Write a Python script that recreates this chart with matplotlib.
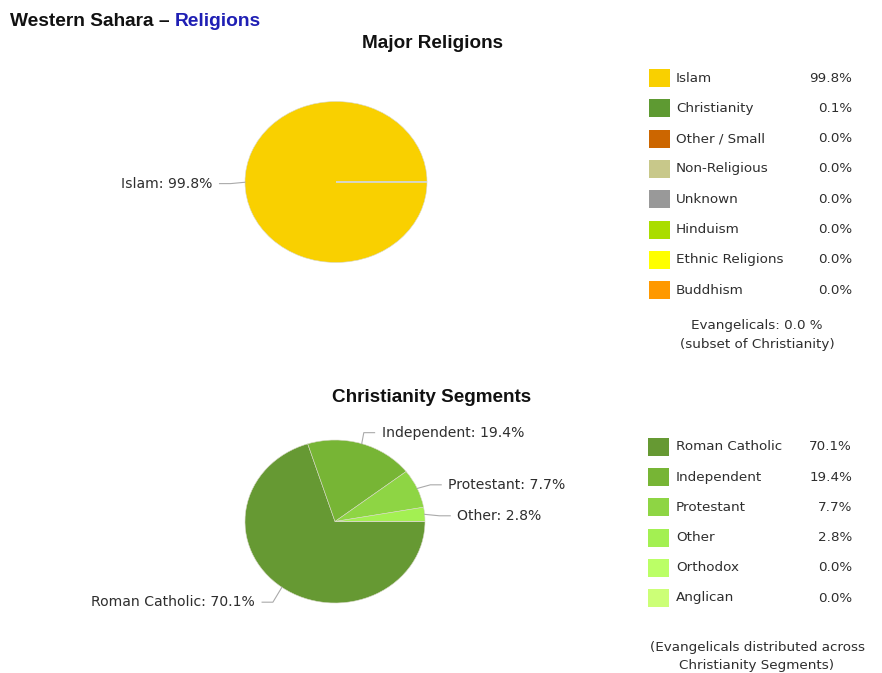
import numpy as np
import matplotlib
matplotlib.use("Agg")
import matplotlib.pyplot as plt
from matplotlib.patches import Rectangle

# ---------------- data ----------------
major_labels = ["Islam", "Christianity", "Other / Small", "Non-Religious", "Unknown",
                "Hinduism", "Ethnic Religions", "Buddhism"]
major_values = [99.8, 0.1, 0.0, 0.0, 0.0, 0.0, 0.0, 0.0]
major_colors = ["#F9D000", "#5E9A32", "#CC6600", "#C8C88A", "#999999",
                "#AADD00", "#FFFF00", "#FF9900"]

seg_labels = ["Roman Catholic", "Independent", "Protestant", "Other", "Orthodox", "Anglican"]
seg_values = [70.1, 19.4, 7.7, 2.8, 0.0, 0.0]
seg_colors = ["#669933", "#77B535", "#8ED544", "#A3F052", "#BBFF66", "#CCFF77"]

evangelicals = 0.0

W, H = 882, 673
fig = plt.figure(figsize=(W / 100, H / 100), dpi=100)
fig.patch.set_facecolor("white")

def fx(x):
    return x / W

def fy(y):
    return 1 - y / H

TXT = "#2e2e2e"
LBL_FONT = "DejaVu Sans"
LEG_FS = 9.7
LBL_FS = 10.1

# ---------------- titles ----------------
t1 = fig.text(fx(10), fy(21), "Western Sahara \u2013 ", fontsize=13.8, fontweight="bold",
              family="Liberation Sans", color="#111111", va="center", ha="left")
fig.canvas.draw()
bb = t1.get_window_extent()
fig.text(bb.x1 / W, fy(21), "Religions", fontsize=13.8, fontweight="bold",
         family="Liberation Sans", color="#1F1FB4", va="center", ha="left")

fig.text(fx(432), fy(43), "Major Religions", fontsize=13.6, fontweight="bold",
         family="Liberation Sans", color="#111111", va="center", ha="center")
fig.text(fx(432), fy(397), "Christianity Segments", fontsize=13.6, fontweight="bold",
         family="Liberation Sans", color="#111111", va="center", ha="center")


def make_pie(cx, cy, rx, ry, values, colors):
    ax = fig.add_axes([fx(cx - rx), fy(cy + ry), 2 * rx / W, 2 * ry / H])
    wedges, _ = ax.pie(values, colors=colors, startangle=0, counterclock=False,
                       radius=1.0,
                       wedgeprops=dict(edgecolor="#d8d8c8", linewidth=0.4))
    ax.set_xlim(-1, 1)
    ax.set_ylim(-1, 1)
    ax.set_aspect("auto")
    ax.axis("off")
    return ax, wedges


def pie_label(ax, wedge, text, tx, ty, ha):
    # tx, ty: text anchor in axes data units (layout)
    mid = np.deg2rad((wedge.theta1 + wedge.theta2) / 2)
    ex, ey = np.cos(mid), np.sin(mid)
    gap = 0.08 if ha == "left" else -0.08
    elbow = tx - gap - (0.12 if ha == "left" else -0.12)
    ax.plot([ex, elbow, tx - gap], [ey, ty, ty], color="#aaaaaa", lw=0.8,
            clip_on=False)
    ax.text(tx, ty, text, ha=ha, va="center", fontsize=LBL_FS, family=LBL_FONT,
            color=TXT, clip_on=False)


# ---------------- top pie ----------------
ax1, w1 = make_pie(336, 182, 91, 80.5, major_values, major_colors)
pie_label(ax1, w1[0], f"{major_labels[0]}: {major_values[0]:.1f}%", -1.36, -0.02, "right")

# ---------------- bottom pie ----------------
ax2, w2 = make_pie(335, 521.5, 90, 81.5, seg_values, seg_colors)
seg_pos = [(-0.89, -0.99, "right"), (0.52, 1.09, "left"), (1.26, 0.45, "left"),
           (1.36, 0.07, "left")]
for i, (tx, ty, ha) in enumerate(seg_pos):
    pie_label(ax2, w2[i], f"{seg_labels[i]}: {seg_values[i]:.1f}%", tx, ty, ha)

# ---------------- legends ----------------
def legend(labels, values, colors, y0, step, sq_x=649):
    for i, (lab, val, col) in enumerate(zip(labels, values, colors)):
        yc = y0 + i * step
        fig.add_artist(Rectangle((fx(sq_x), fy(yc + 9)), 21 / W, 18 / H,
                                 transform=fig.transFigure, facecolor=col,
                                 edgecolor="none"))
        fig.text(fx(676), fy(yc), lab, fontsize=LEG_FS, family=LBL_FONT, color=TXT,
                 ha="left", va="center")
        fig.text(fx(852), fy(yc), f"{val:.1f}%", fontsize=LEG_FS, family=LBL_FONT,
                 color=TXT, ha="right", va="center")

legend(major_labels, major_values, major_colors, 78, 30.3)
fig.text(fx(757), fy(325), f"Evangelicals: {evangelicals:.1f} %", fontsize=LEG_FS,
         family=LBL_FONT, color=TXT, ha="center", va="center")
fig.text(fx(757), fy(345), "(subset of Christianity)", fontsize=LEG_FS,
         family=LBL_FONT, color=TXT, ha="center", va="center")

legend(seg_labels, seg_values, seg_colors, 447, 30.2, sq_x=648)
fig.text(fx(757), fy(647), "(Evangelicals distributed across", fontsize=LEG_FS,
         family=LBL_FONT, color=TXT, ha="center", va="center")
fig.text(fx(757), fy(666), "Christianity Segments)", fontsize=LEG_FS,
         family=LBL_FONT, color=TXT, ha="center", va="center")

fig.savefig("out.png", dpi=100, facecolor="white")
